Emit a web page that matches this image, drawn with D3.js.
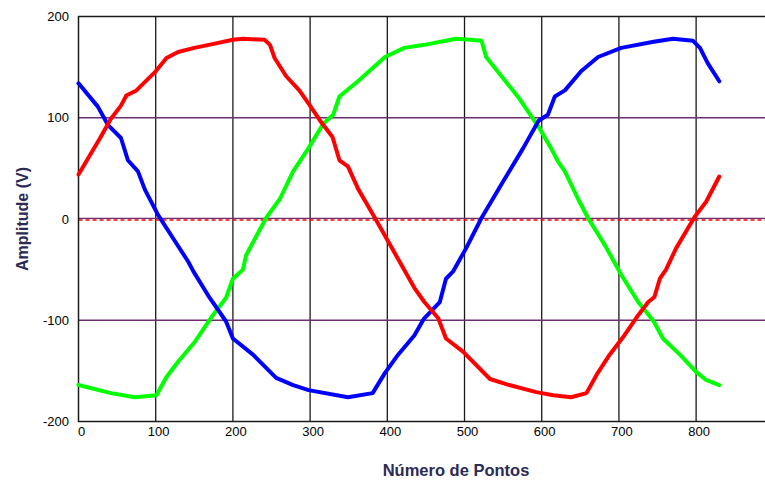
<!DOCTYPE html>
<html>
<head>
<meta charset="utf-8">
<script src="https://cdn.jsdelivr.net/npm/d3@7"></script>
<style>
  body { margin: 0; background: #fff; }
  svg { display: block; font-family: "Liberation Sans", Arial, sans-serif; }
</style>
</head>
<body>
<svg></svg>
<script>
var width = 765;
var height = 482;

var xTicks = [0, 100, 200, 300, 400, 500, 600, 700, 800];
var yTicks = [-200, -100, 0, 100, 200];

// [ponto, amplitude]
var redPts = [[0,44],[28,80],[42,99],[55,112],[62,122],[75,127],[99,145],[114,159],[129,165],[150,169],
  [175,173],[200,177],[213,178],[241,177],[248,172],[254,159],[269,141],[286,127],[299,113],[314,96],
  [329,81],[338,58],[349,52],[362,30],[384,1],[401,-22],[418,-45],[435,-68],[448,-82],[466,-98],
  [476,-118],[498,-131],[533,-158],[558,-164],[593,-171],[615,-174],[638,-176],[658,-172],[671,-154],
  [688,-134],[707,-115],[725,-95],[738,-82],[746,-77],[753,-59],[761,-50],[774,-29],[798,2],[813,17],[830,42]];

var greenPts = [[0,-164],[42,-172],[73,-176],[101,-174],[114,-156],[129,-141],[150,-122],[174,-95],
  [191,-78],[200,-59],[213,-50],[217,-36],[243,1],[261,20],[278,47],[298,70],[317,94],[330,103],
  [338,121],[362,136],[397,160],[422,169],[448,172],[489,178],[508,177],[522,176],[528,160],[550,139],
  [571,119],[596,91],[612,70],[621,57],[630,47],[647,20],[660,1],[682,-26],[703,-55],[725,-82],
  [745,-101],[757,-118],[779,-134],[800,-151],[813,-159],[830,-164]];

var bluePts = [[0,134],[25,111],[38,93],[55,80],[64,58],[77,47],[86,29],[103,4],[125,-22],[142,-42],
  [149,-52],[170,-78],[191,-101],[200,-118],[226,-134],[256,-157],[278,-164],[298,-169],[349,-176],
  [381,-172],[397,-152],[414,-134],[435,-115],[447,-99],[468,-82],[476,-59],[485,-52],[502,-29],
  [522,1],[550,37],[576,70],[596,97],[608,103],[617,121],[630,127],[651,146],[673,160],[703,169],
  [745,175],[770,178],[796,176],[805,169],[815,154],[830,136]];

var series = [
  {pts: greenPts, color: "#00ff00"},
  {pts: bluePts, color: "#0000ff"},
  {pts: redPts, color: "#ff0000"}
];

var x = d3.scaleLinear().domain([0, 890]).range([78.5, 765.6]);
var y = d3.scaleLinear().domain([-200, 200]).range([421.5, 16.5]);

var svg = d3.select("svg")
  .attr("width", width)
  .attr("height", height);

// vertical grid
svg.append("g")
  .selectAll("line")
  .data(xTicks.slice(1))
  .enter()
  .append("line")
    .attr("x1", d => x(d)).attr("x2", d => x(d))
    .attr("y1", y(200)).attr("y2", y(-200))
    .attr("stroke", "#1a1a1a")
    .attr("stroke-width", 1.3);

// horizontal grid
svg.append("g")
  .selectAll("line")
  .data([-100, 0, 100])
  .enter()
  .append("line")
    .attr("x1", x(0)).attr("x2", width)
    .attr("y1", d => y(d) - (d === 0 ? 0.7 : 0)).attr("y2", d => y(d) - (d === 0 ? 0.7 : 0))
    .attr("stroke", "#6e2f6e")
    .attr("stroke-width", 1.3);

svg.append("line")
  .attr("x1", x(0)).attr("x2", width)
  .attr("y1", y(0) + 1).attr("y2", y(0) + 1)
  .attr("stroke", "#ff0000")
  .attr("stroke-width", 1.4)
  .attr("stroke-dasharray", "4,3");

// frame
svg.append("path")
  .attr("d", "M" + width + "," + y(200) + "H" + x(0) + "V" + y(-200) + "H" + width)
  .attr("fill", "none")
  .attr("stroke", "#1a1a1a")
  .attr("stroke-width", 1.5);

var line = d3.line()
  .x(d => x(d[0]))
  .y(d => y(d[1]));

svg.append("g")
  .selectAll("path")
  .data(series)
  .enter()
  .append("path")
    .attr("d", d => line(d.pts))
    .attr("fill", "none")
    .attr("stroke", d => d.color)
    .attr("stroke-width", 4)
    .attr("stroke-linejoin", "round")
    .attr("stroke-linecap", "round");

// tick labels
svg.append("g")
  .selectAll("text")
  .data(yTicks)
  .enter()
  .append("text")
    .attr("x", 69)
    .attr("y", d => y(d))
    .attr("dy", "0.35em")
    .attr("text-anchor", "end")
    .style("font-size", "13px")
    .text(d => d);

svg.append("g")
  .selectAll("text")
  .data(xTicks)
  .enter()
  .append("text")
    .attr("x", d => x(d) + 3)
    .attr("y", 431)
    .attr("dy", "0.35em")
    .attr("text-anchor", "middle")
    .style("font-size", "13px")
    .text(d => d);

// axis titles
svg.append("text")
  .attr("transform", "translate(28," + y(0) + ") rotate(-90)")
  .attr("text-anchor", "middle")
  .style("font-size", "16px")
  .style("font-weight", "bold")
  .style("fill", "#2b2b55")
  .text("Amplitude (V)");

svg.append("text")
  .attr("x", 456)
  .attr("y", 476)
  .attr("text-anchor", "middle")
  .style("font-size", "16.5px")
  .style("font-weight", "bold")
  .style("fill", "#2b2b55")
  .text("Número de Pontos");
</script>
</body>
</html>
